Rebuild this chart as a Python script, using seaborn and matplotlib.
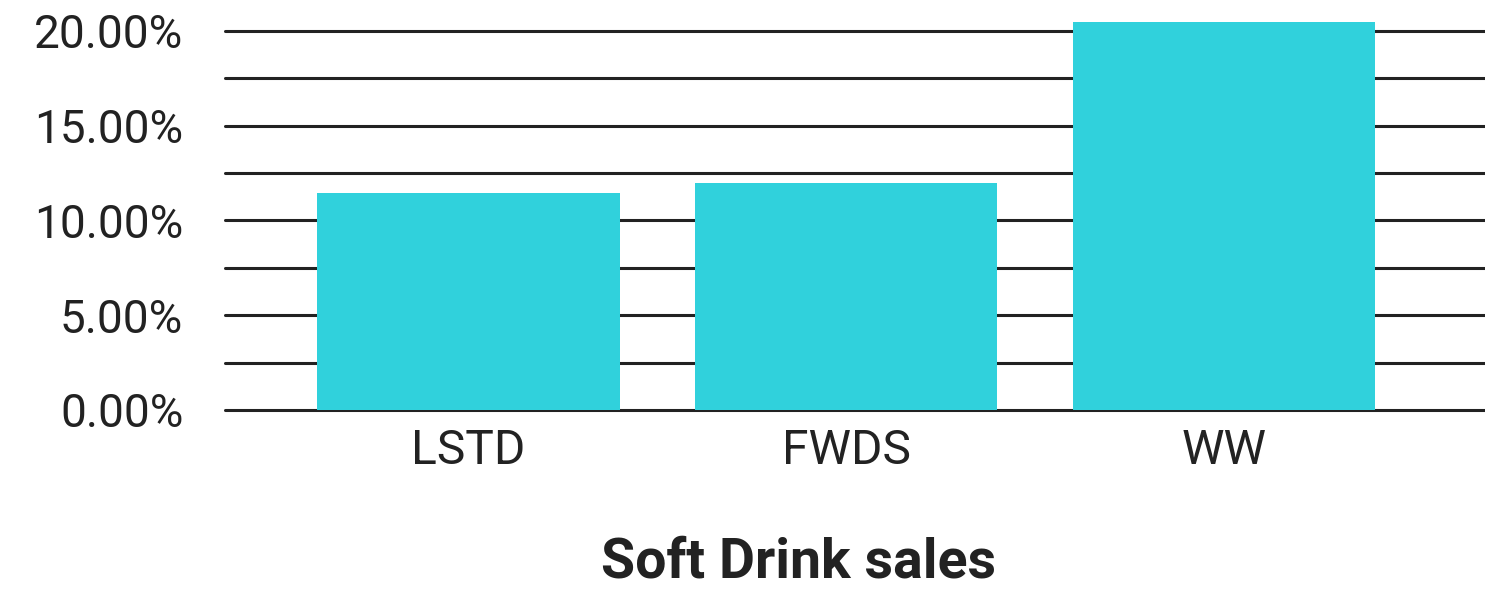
import matplotlib
matplotlib.use("Agg")
import matplotlib.pyplot as plt
import seaborn as sns
import pandas as pd
from matplotlib.ticker import FuncFormatter, MultipleLocator

drinks = ["LSTD", "FWDS", "WW"]
sales_pct = [11.45, 11.98, 20.47]

sns.set_style("white")
plt.rcParams["font.family"] = ["Roboto", "DejaVu Sans"]

df = pd.DataFrame({"drink": drinks, "sales": sales_pct})

fig = plt.figure(figsize=(14.85, 5.89), dpi=100)
ax = fig.add_axes([0.1515, 0.304, 0.8485, 0.6595])

sns.barplot(data=df, x="drink", y="sales", color="#30D1DC", saturation=1,
            width=0.8, linewidth=0, ax=ax, zorder=3)

ax.set_ylim(0, 20.5)
ax.set_xlim(-0.644, 2.69)
ax.yaxis.set_major_locator(MultipleLocator(2.5))


def pct_label(v, pos):
    # label only the 5% lines, the half steps stay blank
    if abs(v / 5 - round(v / 5)) < 1e-6:
        return f"{v:.2f}%"
    return ""


ax.yaxis.set_major_formatter(FuncFormatter(pct_label))

ax.grid(axis="y", color="#222222", linewidth=2.2)
for gl in ax.get_ygridlines():
    gl.set_clip_on(False)
ax.set_axisbelow(True)
for s in ax.spines.values():
    s.set_visible(False)

ax.tick_params(axis="y", length=0, pad=30, labelsize=33, labelcolor="#222222")
ax.tick_params(axis="x", length=0, pad=13, labelsize=34.5, labelcolor="#222222")
ax.set_ylabel("")
ax.set_xlabel("Soft Drink sales", fontsize=40, fontweight="bold", color="#222222")
ax.xaxis.set_label_coords((799 - 225) / 1260, -0.325)

fig.savefig("out.png", dpi=100)
